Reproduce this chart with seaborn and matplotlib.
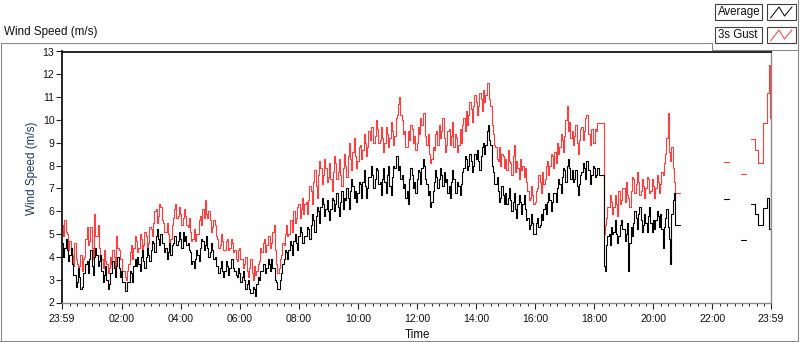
import numpy as np
import pandas as pd
import seaborn as sns
import matplotlib.pyplot as plt
from matplotlib.patches import Rectangle
from matplotlib.lines import Line2D

nan = np.nan

# minutes after 23:59 of the previous day: 2.5 min samples up to ~20:55,
# then the few late readings (NaN rows mark gaps in the record)
minutes = np.arange(0, 1257.5, 2.5).tolist() + [1300, 1345, 1355, 1360, 1380, 1390, 1395,
                                                1400, 1408, 1414, 1424, 1432, 1435, 1437, 1440]

average = [
    4.6, 4.0, 4.4, 4.8, 4.3, 3.8, 4.1, 4.4, 3.7, 3.2, 3.2, 2.7, 2.9, 3.5, 3.1, 2.6, 2.7, 3.3, 3.3, 3.7,
    3.8, 3.3, 3.9, 4.3, 3.6, 3.2, 4.0, 4.4, 4.1, 3.6, 3.8, 4.1, 3.4, 2.9, 3.2, 3.6, 3.0, 2.6, 2.8, 3.3,
    3.3, 3.8, 3.5, 3.1, 3.6, 4.0, 3.5, 3.1, 3.4, 2.9, 2.9, 2.5, 2.5, 2.9, 2.9, 3.4, 3.3, 2.9, 3.6, 3.9,
    3.6, 4.0, 3.7, 3.4, 4.0, 4.3, 3.8, 3.5, 4.0, 4.4, 4.1, 3.8, 4.3, 4.7, 4.6, 4.2, 4.9, 5.2, 4.8, 4.5,
    5.0, 4.6, 4.6, 4.2, 4.4, 3.9, 4.2, 4.6, 4.1, 4.5, 4.6, 4.9, 4.9, 4.5, 4.7, 5.1, 4.8, 4.4, 5.1, 4.7,
    4.9, 4.5, 4.6, 4.3, 4.2, 3.7, 3.8, 3.5, 3.9, 4.3, 4.1, 3.8, 4.4, 4.8, 4.7, 4.3, 4.5, 4.9, 4.4, 4.0,
    4.2, 4.6, 4.3, 3.9, 4.0, 3.6, 3.6, 3.3, 3.5, 3.8, 3.4, 3.1, 3.4, 3.8, 3.6, 3.2, 3.5, 3.9, 3.9, 3.5,
    3.4, 3.2, 3.1, 3.5, 3.3, 2.9, 3.1, 3.4, 3.0, 2.6, 2.8, 3.0, 2.6, 2.4, 2.4, 2.7, 2.6, 2.3, 2.8, 3.1,
    3.0, 3.4, 3.4, 3.7, 3.7, 3.3, 3.5, 3.9, 3.7, 3.4, 3.9, 3.5, 3.5, 3.0, 2.9, 2.6, 2.6, 3.0, 3.3, 3.7,
    3.9, 4.3, 4.2, 3.9, 4.3, 4.7, 4.5, 4.1, 4.7, 5.0, 4.6, 4.3, 4.9, 5.3, 5.1, 4.6, 4.6, 4.9, 4.9, 5.3,
    5.2, 4.8, 5.4, 5.9, 5.6, 5.1, 5.8, 6.2, 6.0, 5.5, 6.2, 6.6, 6.3, 5.8, 6.1, 6.5, 6.0, 5.6, 6.1, 6.6,
    6.5, 6.0, 6.3, 6.8, 6.2, 5.8, 6.4, 6.9, 6.1, 6.6, 6.5, 7.0, 6.6, 6.1, 6.9, 7.4, 7.1, 6.6, 6.9, 6.4,
    6.8, 7.3, 7.2, 6.6, 7.3, 7.8, 7.1, 6.6, 7.0, 7.5, 7.5, 8.0, 7.6, 7.0, 7.4, 7.9, 7.8, 7.2, 7.3, 6.7,
    7.4, 7.9, 7.3, 6.8, 7.6, 8.0, 7.1, 6.7, 7.5, 8.0, 7.9, 8.4, 8.4, 7.8, 8.0, 7.4, 7.6, 7.0, 7.2, 6.6,
    6.9, 6.3, 7.4, 7.9, 7.6, 7.0, 7.3, 6.8, 7.4, 7.8, 7.7, 7.2, 7.9, 8.3, 8.0, 7.4, 7.2, 6.7, 6.9, 6.2,
    6.4, 6.9, 7.3, 7.8, 7.5, 7.0, 7.4, 7.9, 7.6, 7.1, 7.7, 7.3, 7.4, 6.8, 7.1, 6.6, 7.3, 7.8, 7.4, 6.8,
    6.8, 7.3, 7.1, 6.7, 7.2, 7.7, 7.9, 8.4, 8.3, 7.8, 8.0, 8.5, 8.2, 7.7, 8.0, 8.5, 8.3, 8.7, 8.2, 7.8,
    8.4, 8.8, 9.0, 8.5, 8.9, 9.5, 9.8, 9.1, 8.9, 8.0, 7.7, 7.2, 7.2, 7.5, 6.9, 6.4, 6.6, 7.1, 6.7, 6.3,
    6.8, 6.3, 6.6, 7.0, 6.5, 6.0, 6.4, 6.8, 6.1, 5.7, 6.3, 6.7, 6.4, 5.9, 6.3, 6.7, 6.1, 5.6, 5.7, 5.2,
    5.4, 5.9, 5.5, 5.0, 5.0, 5.5, 5.7, 5.3, 5.4, 5.9, 5.6, 6.1, 6.3, 5.9, 6.4, 6.8, 6.5, 6.0, 6.4, 6.8,
    6.8, 6.4, 7.0, 7.4, 7.2, 6.8, 7.5, 7.9, 7.8, 7.3, 8.0, 8.3, 7.9, 7.4, 7.8, 7.3, 7.4, 7.8, 7.1, 6.7,
    7.2, 7.6, 7.7, 8.1, 7.9, 7.4, 8.2, 7.8, 7.8, 7.2, 7.6, 8.0, 7.9, 7.5, 7.6, 7.9, 7.6, 7.6, 7.6, 7.6,
    3.6, 3.4, 4.5, 4.9, 5.0, 4.5, 5.3, 5.0, 5.1, 5.6, 5.0, 4.6, 4.9, 5.4, 5.6, 5.2, 5.2, 4.7, 5.0, 5.5,
    3.4, 4.6, 5.3, 4.9, 5.5, 6.0, 5.7, 5.2, 5.9, 6.2, 5.6, 5.1, 5.4, 5.9, 5.5, 5.1, 5.8, 6.2, 5.5, 5.1,
    5.6, 5.2, 5.6, 6.0, 5.8, 5.3, 5.9, 5.2, 4.4, 5.3, 5.7, 6.1, 5.3, 4.8, 3.7, 5.9, 6.5, 6.8, 5.4, 5.4,
    5.4, 5.4, 5.4,
    nan, 6.53, 6.53, nan, 4.73, 4.73, nan,
    6.3, 5.87, 5.4, 6.13, 6.6, 5.2, 5.2, 7.2,
]

gust = [
    5.4, 4.9, 5.6, 5.1, 5.0, 4.3, 4.7, 4.4, 4.1, 3.6, 4.6, 3.9, 3.7, 3.3, 3.6, 4.1, 3.4, 3.9, 4.0, 4.8,
    5.3, 4.5, 4.7, 5.3, 4.4, 3.9, 5.9, 4.9, 4.9, 5.4, 4.4, 3.9, 3.9, 3.5, 4.3, 3.8, 3.7, 3.3, 3.5, 4.0,
    3.7, 4.3, 4.0, 3.5, 4.9, 4.4, 4.3, 3.9, 3.9, 3.4, 3.4, 3.1, 3.0, 3.4, 3.7, 4.2, 4.5, 3.9, 4.4, 4.9,
    4.7, 4.2, 4.4, 5.0, 4.8, 4.3, 4.5, 5.1, 4.9, 4.4, 4.6, 5.3, 5.2, 4.9, 5.5, 6.0, 6.1, 5.5, 5.8, 6.3,
    6.2, 5.6, 5.5, 5.1, 5.1, 5.5, 5.0, 4.6, 4.8, 5.4, 5.7, 6.1, 6.3, 5.7, 5.8, 6.2, 5.9, 5.4, 5.7, 6.1,
    5.8, 5.4, 5.3, 5.7, 5.1, 4.7, 4.8, 5.2, 4.7, 5.0, 5.0, 5.6, 5.8, 5.4, 6.1, 5.7, 6.5, 5.9, 5.7, 6.0,
    5.6, 5.1, 5.3, 5.6, 5.4, 4.9, 4.8, 4.4, 4.5, 5.0, 4.7, 4.3, 4.3, 4.7, 4.8, 4.3, 4.4, 4.8, 4.6, 4.2,
    4.3, 3.9, 3.8, 4.3, 4.4, 3.9, 3.9, 3.5, 3.7, 4.0, 3.4, 3.1, 3.5, 3.9, 3.3, 3.0, 3.6, 3.2, 3.4, 3.7,
    3.8, 4.4, 4.2, 4.6, 4.8, 4.2, 4.5, 4.9, 4.9, 4.4, 4.6, 5.1, 5.4, 4.3, 3.7, 3.3, 3.5, 3.9, 4.1, 4.6,
    4.5, 5.0, 5.4, 4.9, 5.0, 5.6, 5.6, 5.1, 6.0, 5.5, 5.7, 6.2, 6.3, 5.7, 6.1, 6.6, 5.9, 6.3, 6.4, 5.9,
    6.5, 7.1, 6.9, 6.3, 7.3, 7.8, 7.1, 6.6, 7.6, 8.2, 7.9, 7.2, 7.6, 8.3, 7.9, 7.3, 7.5, 8.1, 7.4, 6.9,
    7.7, 8.4, 8.1, 7.4, 7.7, 8.3, 7.6, 7.1, 7.9, 8.5, 8.0, 7.5, 8.4, 9.0, 8.3, 7.8, 8.6, 9.2, 8.4, 7.9,
    8.2, 8.8, 8.9, 8.3, 8.7, 9.4, 9.0, 8.4, 8.8, 9.5, 9.1, 9.7, 9.7, 9.0, 9.3, 10.0, 9.6, 9.0, 9.1, 9.7,
    9.2, 8.6, 9.0, 9.7, 9.4, 8.8, 9.2, 9.9, 9.5, 8.9, 9.3, 10.1, 10.2, 10.7, 11.0, 10.2, 10.0, 9.4, 9.5, 8.8,
    8.8, 9.5, 9.1, 9.8, 9.6, 9.0, 9.3, 8.7, 9.0, 9.7, 9.4, 10.1, 9.8, 10.3, 10.3, 9.3, 8.9, 9.4, 8.5, 8.1,
    8.3, 8.8, 8.7, 9.4, 9.5, 8.9, 9.8, 9.2, 9.5, 10.1, 9.2, 8.6, 8.9, 9.5, 9.6, 8.9, 9.3, 9.9, 8.8, 9.4,
    9.2, 8.6, 8.9, 9.6, 9.0, 9.8, 10.1, 9.5, 10.4, 9.8, 10.2, 10.8, 10.5, 9.9, 10.6, 11.1, 10.8, 10.2, 10.6, 11.2,
    10.9, 10.4, 11.3, 10.8, 11.1, 11.6, 11.6, 10.9, 10.6, 9.8, 9.4, 8.9, 8.8, 8.3, 8.2, 8.8, 8.0, 8.5, 8.4, 7.9,
    8.3, 7.8, 8.7, 8.2, 8.1, 7.6, 8.4, 8.9, 7.7, 8.2, 7.9, 7.4, 8.3, 7.8, 8.0, 7.5, 7.9, 7.3, 6.9, 6.5,
    6.6, 7.1, 6.7, 6.3, 6.4, 6.9, 7.0, 7.6, 7.3, 6.8, 7.7, 7.2, 7.4, 8.0, 8.2, 7.6, 8.0, 8.5, 8.4, 7.9,
    8.6, 8.1, 9.0, 8.5, 8.8, 9.4, 9.1, 8.6, 9.3, 10.0, 10.6, 9.5, 9.9, 9.2, 9.5, 8.9, 9.3, 9.8, 9.0, 8.5,
    9.1, 9.6, 9.7, 9.1, 9.5, 10.1, 10.2, 9.4, 9.4, 8.9, 9.6, 9.0, 9.0, 9.6, 9.5, 9.85, 9.85, 9.85, 9.85, 9.85,
    5.0, 5.4, 5.7, 6.2, 6.2, 6.7, 6.4, 5.9, 6.2, 6.7, 6.3, 5.8, 6.9, 6.3, 6.5, 7.0, 7.0, 6.4, 7.3, 6.7,
    6.6, 6.2, 6.9, 7.5, 7.4, 6.8, 7.2, 7.7, 7.3, 6.7, 6.9, 7.4, 7.1, 6.6, 7.0, 7.5, 7.4, 6.8, 6.9, 7.4,
    7.1, 6.6, 7.0, 7.6, 7.3, 6.8, 7.2, 7.7, 7.6, 8.1, 8.5, 9.2, 10.3, 8.6, 8.2, 8.8, 7.9, 7.3, 6.8, 6.8,
    6.8, 6.8, 6.8,
    nan, 8.15, 8.15, nan, 7.63, 7.63, nan,
    9.16, 8.68, 8.1, 9.86, 11.2, 12.4, 10.1, 8.8,
]

tick_minutes = [0, 121, 241, 361, 481, 601, 721, 841, 961, 1081, 1201, 1321, 1440]
tick_labels = ["23:59", "02:00", "04:00", "06:00", "08:00", "10:00", "12:00",
               "14:00", "16:00", "18:00", "20:00", "22:00", "23:59"]
y_ticks = list(range(2, 14))

assert len(minutes) == len(average) == len(gust)

df = pd.DataFrame({"minute": minutes, "Average": average, "3s Gust": gust})
df["segment"] = df["Average"].isna().cumsum()
df = df.dropna()

sns.set_style("ticks")
plt.rcParams['font.family'] = ['Liberation Sans', 'DejaVu Sans']

W, H = 800, 342
fig = plt.figure(figsize=(W / 100, H / 100), dpi=100)


def fx(x):
    return x / W


def fy(y):
    return 1 - y / H


ax = fig.add_axes([fx(62), fy(302.5), 709 / W, 251 / H])

sns.lineplot(data=df, x="minute", y="3s Gust", units="segment", estimator=None,
             sort=False, color="#ff3f3f", lw=0.8, drawstyle="steps-post",
             legend=False, ax=ax)
sns.lineplot(data=df, x="minute", y="Average", units="segment", estimator=None,
             sort=False, color="black", lw=0.8, drawstyle="steps-post",
             legend=False, ax=ax)

ax.set_xlim(0, 1440)
ax.set_ylim(2, 13)
ax.set_xticks(tick_minutes)
ax.set_xticklabels(tick_labels)
ax.set_xticks(np.arange(1, 1440, 15), minor=True)
ax.set_yticks(y_ticks)
ax.set_yticklabels([str(v) for v in y_ticks])

ax.tick_params(axis="x", which="major", length=4, width=0.8, color="#222222",
               pad=4, labelsize=7.6, labelcolor="#111111")
ax.tick_params(axis="x", which="minor", length=2.5, width=0.7, color="#222222")
ax.tick_params(axis="y", which="major", length=4, width=0.8, color="#222222",
               pad=1.5, labelsize=7.6, labelcolor="#111111")

for side in ("top", "left"):
    ax.spines[side].set_color("black")
    ax.spines[side].set_linewidth(1.2)
for side in ("bottom", "right"):
    ax.spines[side].set_color("#8c8c8c")
    ax.spines[side].set_linewidth(1.0)

ax.set_xlabel("Time", fontsize=8.4, color="#111111", va="top")
ax.xaxis.set_label_coords(0.502, -0.106)
ax.set_ylabel("Wind Speed (m/s)", fontsize=8.4, color="#1f3a60")
ax.yaxis.set_label_coords(-0.034, 0.536)

fig.text(fx(4), fy(32), "Wind Speed (m/s)", fontsize=8.4, color="#111111",
         ha="left", va="center")

# outer panel frame
frame_color = "#8a8a8a"
for (x0, y0), (x1, y1) in [((0.5, 42.5), (712, 42.5)), ((712, 42.5), (712, 49.5)),
                           ((712, 49.5), (798, 49.5)), ((797.5, 0), (797.5, 341)),
                           ((0.5, 42.5), (0.5, 341)), ((0, 340.5), (798, 340.5))]:
    fig.add_artist(Line2D([fx(x0), fx(x1)], [fy(y0), fy(y1)], color=frame_color,
                          lw=0.8, transform=fig.transFigure))

# legend boxes
for row, (label, color) in enumerate([("Average", "black"), ("3s Gust", "#ff3f3f")]):
    top = 4 + 23 * row
    fig.add_artist(Rectangle((fx(715), fy(top + 16)), 47 / W, 16 / H, facecolor="white",
                             edgecolor="#404040", lw=0.8, transform=fig.transFigure))
    fig.add_artist(Rectangle((fx(767), fy(top + 16)), 29 / W, 16 / H, facecolor="white",
                             edgecolor="#404040", lw=0.8, transform=fig.transFigure))
    fig.text(fx(717.5), fy(top + 8), label, fontsize=8.3, color="#111111",
             ha="left", va="center")
    zx = [770.5, 779, 784.5, 792]
    zy = [top + 14, top + 3, top + 12, top + 3]
    fig.add_artist(Line2D([fx(v) for v in zx], [fy(v) for v in zy], color=color,
                          lw=0.7, transform=fig.transFigure))

fig.savefig("out.png", dpi=100)
